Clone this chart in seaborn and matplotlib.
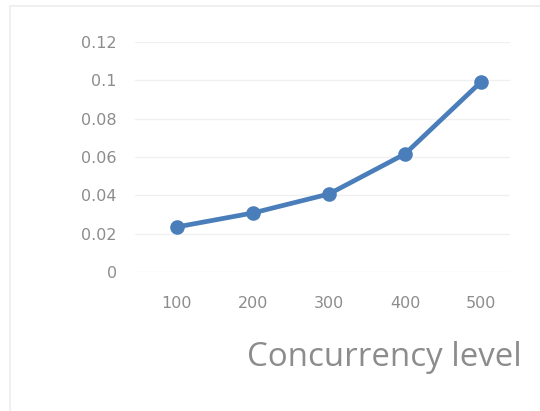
import numpy as np
import pandas as pd
import seaborn as sns
from matplotlib import pyplot as plt
from matplotlib.patches import Rectangle

# data
levels = ["100", "200", "300", "400", "500"]
values = [0.0235, 0.0308, 0.0407, 0.0616, 0.0992]
y_ticks = [0, 0.02, 0.04, 0.06, 0.08, 0.1, 0.12]
y_tick_labels = ["0", "0.02", "0.04", "0.06", "0.08", "0.1", "0.12"]

df = pd.DataFrame({"level": levels, "value": values})

sns.set_style("white")
plt.rcParams['font.family'] = ['Open Sans', 'DejaVu Sans']

fig = plt.figure(figsize=(5.4, 4.11), dpi=100)
ax = fig.add_axes([135 / 540, 1 - 272 / 411, 375 / 540, 230 / 411])

# light chart border like the original spreadsheet chart
fig.patches.append(Rectangle((10 / 540, -0.05), 1.0, 1 - 6 / 411 + 0.05,
                             transform=fig.transFigure, fill=False,
                             edgecolor="#ececec", linewidth=1.2))

sns.lineplot(data=df, x="level", y="value", ax=ax, color="#4a7ebb",
             linewidth=3.4, marker="o", markersize=10.5, markeredgewidth=0,
             sort=False)

ax.set_ylim(0, 0.12)
ax.set_xlim(-0.55, 4.38)
ax.set_yticks(y_ticks)
ax.set_yticklabels(y_tick_labels)
ax.yaxis.grid(True, color="#f0f0f0", linewidth=1)
ax.xaxis.grid(False)
for s in ax.spines.values():
    s.set_visible(False)
ax.tick_params(axis="both", length=0, colors="#8c8c8c", labelsize=11.5)
ax.tick_params(axis="y", pad=13)
ax.tick_params(axis="x", pad=17)
for lbl in ax.get_xticklabels() + ax.get_yticklabels():
    lbl.set_family("DejaVu Sans")
ax.set_xlabel("")
ax.set_ylabel("")

fig.text(522 / 540, 1 - 357 / 411, "Concurrency level", ha="right", va="center",
         fontsize=23.8, color="#8c8c8c")

plt.savefig("out.png", dpi=100)
